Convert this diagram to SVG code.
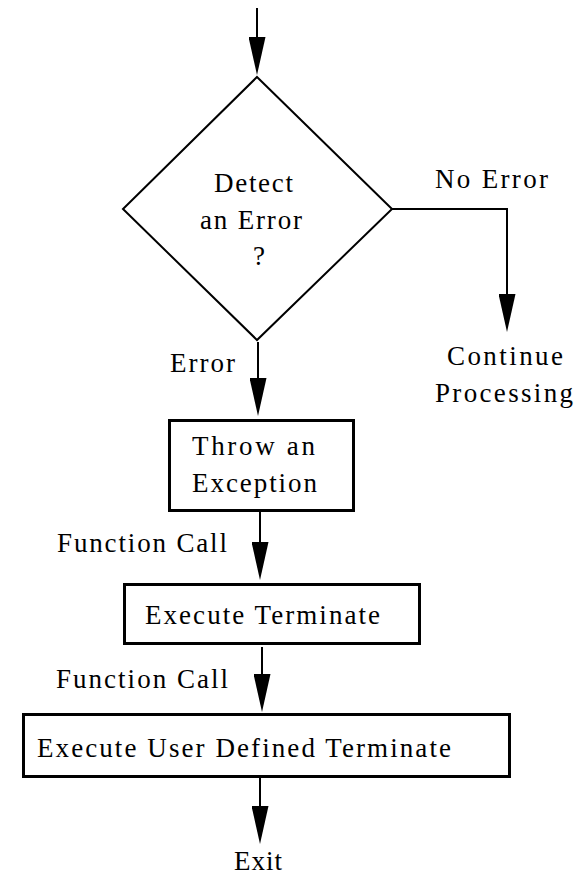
<svg xmlns="http://www.w3.org/2000/svg" width="586" height="876" viewBox="0 0 586 876">
<style>
.t { font-size: 27px; fill: #000; }
.shape { fill: #fff; stroke: #000; }
.box { stroke-width: 3; }
.dia { stroke-width: 2; }
.conn { fill: none; stroke: #000; stroke-width: 2; marker-end: url(#arrow); }
</style>
<defs>
<marker id="arrow" markerUnits="userSpaceOnUse" viewBox="0 0 38 17" markerWidth="38" markerHeight="17" refX="28" refY="8.5" orient="auto">
<path d="M0,0 L38,8.5 L0,17 z" fill="#000"/>
</marker>
</defs>
<rect width="586" height="876" fill="#fff"/>
<g id="connectors">
<path class="conn" d="M257,8 V65"/>
<path class="conn" d="M392,209 H507 V322"/>
<path class="conn" d="M258,342 V406"/>
<path class="conn" d="M260,512 V570"/>
<path class="conn" d="M262,647 V702"/>
<path class="conn" d="M260,778 V834"/>
</g>
<g font-family="Liberation Serif, serif" class="t">
<g id="decision">
<polygon class="shape dia" points="257,77 392,209 257,340 123,209"/>
<text x="214" y="192" textLength="79">Detect</text>
<text x="200" y="229" textLength="102">an Error</text>
<text x="253" y="265">?</text>
</g>
<g id="label-no-error"><text x="435" y="188" textLength="113">No Error</text></g>
<g id="continue">
<text x="447" y="365" textLength="116">Continue</text>
<text x="435" y="402" textLength="138">Processing</text>
</g>
<g id="label-error"><text x="170" y="372" textLength="65">Error</text></g>
<g id="throw">
<rect class="shape box" x="169.5" y="420.5" width="184" height="90"/>
<text x="192" y="455" textLength="123">Throw an</text>
<text x="192" y="492" textLength="125">Exception</text>
</g>
<g id="label-fc1"><text x="57" y="552" textLength="170">Function Call</text></g>
<g id="terminate">
<rect class="shape box" x="124.5" y="584.5" width="295" height="59"/>
<text x="145" y="624" textLength="235">Execute Terminate</text>
</g>
<g id="label-fc2"><text x="56" y="688" textLength="172">Function Call</text></g>
<g id="user-terminate">
<rect class="shape box" x="23.5" y="714.5" width="486" height="62"/>
<text x="37" y="757" textLength="414">Execute User Defined Terminate</text>
</g>
<g id="exit"><text x="234" y="870" textLength="48">Exit</text></g>
</g>
</svg>
